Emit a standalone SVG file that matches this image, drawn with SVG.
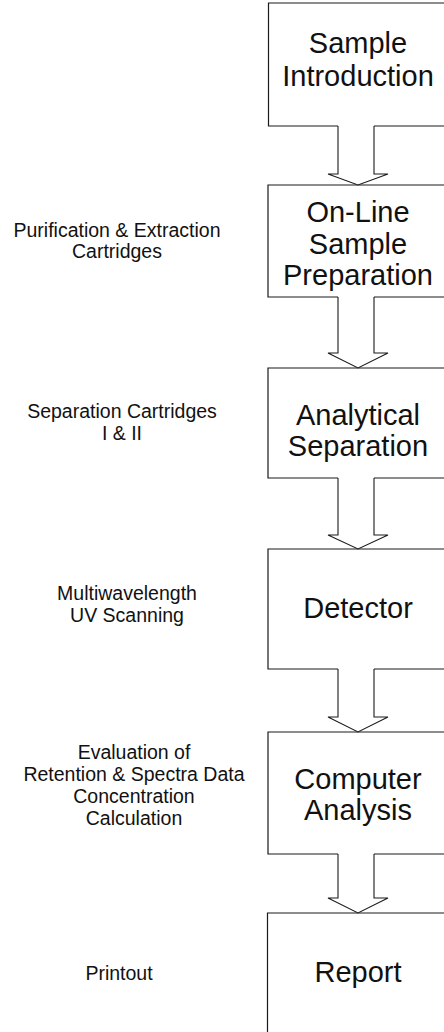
<svg xmlns="http://www.w3.org/2000/svg" width="444" height="1032" viewBox="0 0 444 1032">
<style>
.box{fill:none;stroke:#1a1a1a;stroke-width:1.2}
.arr{fill:#fff;stroke:#1a1a1a;stroke-width:1.1;stroke-linejoin:miter}
.t{font-family:"Liberation Sans",Arial,sans-serif;font-size:29px;fill:#111;text-anchor:middle}
.l{font-family:"Liberation Sans",Arial,sans-serif;font-size:19.5px;fill:#111;text-anchor:middle}
</style>
<rect width="444" height="1032" fill="#fff"/>
<g id="labels">
<text class="l" x="117" y="237">Purification &amp; Extraction</text>
<text class="l" x="117" y="258">Cartridges</text>
<text class="l" x="122" y="418">Separation Cartridges</text>
<text class="l" x="122" y="440">I &amp; II</text>
<text class="l" x="127" y="600">Multiwavelength</text>
<text class="l" x="127" y="622">UV Scanning</text>
<text class="l" x="134" y="759">Evaluation of</text>
<text class="l" x="134" y="781">Retention &amp; Spectra Data</text>
<text class="l" x="134" y="803">Concentration</text>
<text class="l" x="134" y="825">Calculation</text>
<text class="l" x="119" y="980">Printout</text>
</g>
<g id="node-sample-introduction">
<path class="box" d="M450,3 H268.5 V126 H338 M374,126 H450"/>
<text class="t" x="358" y="53">Sample</text>
<text class="t" x="358" y="86">Introduction</text>
</g>
<g id="node-online-sample-preparation">
<path class="box" d="M450,185 H268 V297 H338 M374,297 H450"/>
<text class="t" x="358" y="222">On-Line</text>
<text class="t" x="358" y="254">Sample</text>
<text class="t" x="358" y="285">Preparation</text>
</g>
<g id="node-analytical-separation">
<path class="box" d="M450,368 H268 V478 H338 M374,478 H450"/>
<text class="t" x="358" y="425">Analytical</text>
<text class="t" x="358" y="456">Separation</text>
</g>
<g id="node-detector">
<path class="box" d="M450,549 H268 V669 H338 M374,669 H450"/>
<text class="t" x="358" y="618">Detector</text>
</g>
<g id="node-computer-analysis">
<path class="box" d="M450,732 H268 V854 H338 M374,854 H450"/>
<text class="t" x="358" y="789">Computer</text>
<text class="t" x="358" y="820">Analysis</text>
</g>
<g id="node-report">
<path class="box" d="M450,913 H267.5 V1040"/>
<text class="t" x="358" y="982">Report</text>
</g>
<g id="connectors">
<path class="arr" d="M338,126 V174 H328 L358,185 L388,174 H374 V126"/>
<path class="arr" d="M338,297 V353 H328 L358,368 L388,353 H374 V297"/>
<path class="arr" d="M338,478 V535 H328 L358,549 L388,535 H374 V478"/>
<path class="arr" d="M338,669 V717 H328 L358,732 L388,717 H374 V669"/>
<path class="arr" d="M338,854 V898 H328 L358,913 L388,898 H374 V854"/>
</g>
</svg>
